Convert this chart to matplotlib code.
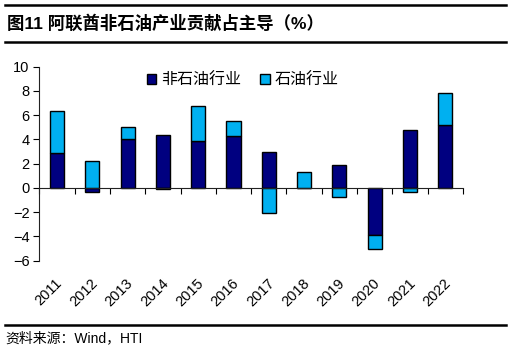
import matplotlib.pyplot as plt
import numpy as np
from matplotlib.patches import Patch
from matplotlib.lines import Line2D

plt.rcParams['font.family'] = ['Liberation Sans', 'Noto Sans CJK SC', 'DejaVu Sans']

years = ['2011', '2012', '2013', '2014', '2015', '2016',
         '2017', '2018', '2019', '2020', '2021', '2022']
non_oil = [2.85, -0.3, 4.0, 4.35, 3.85, 4.3, 2.95, 0.0, 1.9, -3.9, 4.75, 5.2]
oil = [3.5, 2.2, 1.05, -0.12, 2.95, 1.25, -2.05, 1.32, -0.78, -1.1, -0.3, 2.65]

navy = '#000080'
cyan = '#00B0F0'

fig = plt.figure(figsize=(5.11, 3.53), dpi=100)
ax = fig.add_axes([0.077, 0.2615, 0.829, 0.5495])

x = np.arange(len(years))
non_oil = np.array(non_oil)
oil = np.array(oil)
# stack oil on the same side as non-oil when signs agree, otherwise from zero
base = np.where(np.sign(oil) == np.sign(non_oil), non_oil, 0)

ax.bar(x, non_oil, width=0.4, color=navy, edgecolor='black', linewidth=1, zorder=3)
ax.bar(x, oil, width=0.4, bottom=base, color=cyan, edgecolor='black', linewidth=1, zorder=3)

ax.set_xlim(-0.5, 11.5)
ax.set_ylim(-6, 10)
ax.set_yticks(range(-6, 11, 2))
ax.tick_params(axis='y', direction='out', length=4, labelsize=10.5, pad=3)

for s in ['top', 'right']:
    ax.spines[s].set_visible(False)
ax.spines['bottom'].set_position(('data', 0))
ax.set_xticks(np.arange(-0.5, 12, 1))
ax.set_xticklabels([])
ax.tick_params(axis='x', direction='out', length=4)
for s in ['left', 'bottom']:
    ax.spines[s].set_color('#222222')
    ax.spines[s].set_zorder(4)

for i, y in enumerate(years):
    ax.text(i - 0.05, -0.08, y, transform=ax.get_xaxis_transform(), rotation=45,
            ha='right', va='top', rotation_mode='anchor', fontsize=10.5)

handles = [Patch(facecolor=navy, edgecolor='black', label='非石油行业'),
           Patch(facecolor=cyan, edgecolor='black', label='石油行业')]
ax.legend(handles=handles, loc='upper center', bbox_to_anchor=(0.48, 1.045), ncol=2,
          frameon=False, fontsize=11.5, handlelength=0.6, handleheight=0.6,
          handletextpad=0.3, columnspacing=1.2)

fig.text(0.014, 0.936, '图11 阿联酋非石油产业贡献占主导（%）', fontsize=12.5,
         fontweight='bold', va='center', ha='left')
fig.text(0.010, 0.043, '资料来源：Wind，HTI', fontsize=10, va='center', ha='left')

for yy in [0.986, 0.882, 0.080]:
    fig.add_artist(Line2D([0.01, 0.99], [yy, yy], color='black', linewidth=1.8,
                          transform=fig.transFigure))

fig.savefig('out.png', dpi=100)
